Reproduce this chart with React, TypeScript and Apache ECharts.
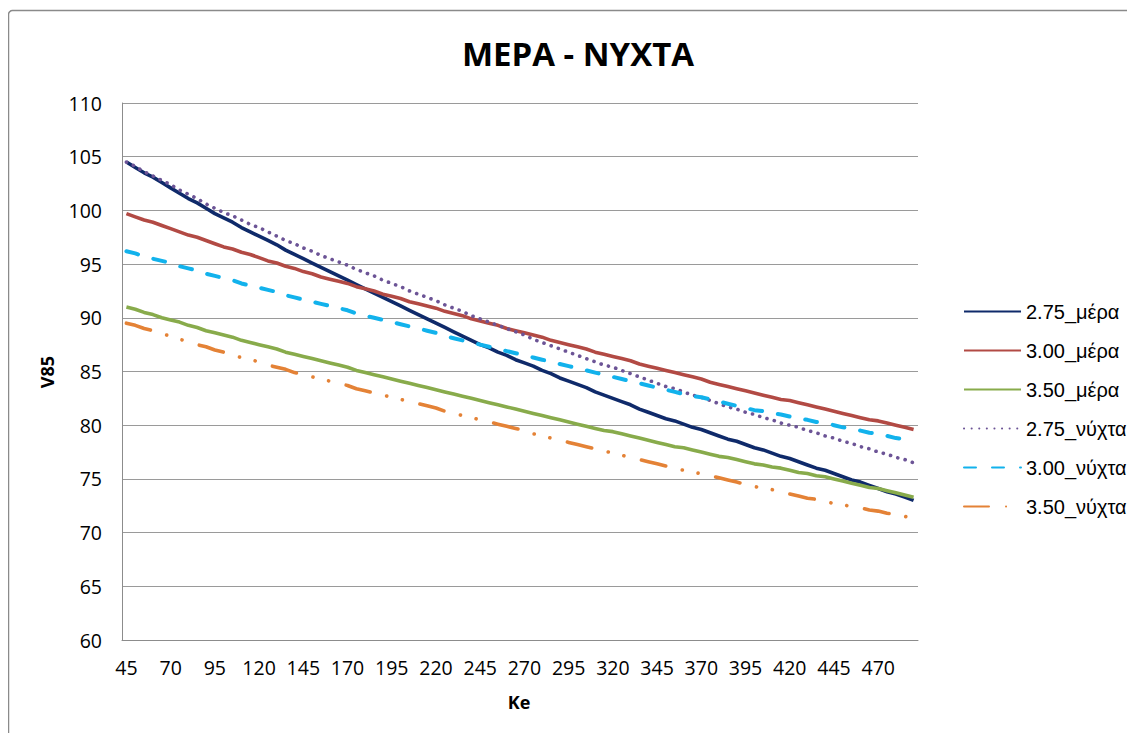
import React, { useEffect, useRef } from "react";
import * as echarts from "echarts";

// Ke values on the category axis (45 ... 490, step 5)
const keValues: string[] = [
  "45", "50", "55", "60", "65", "70", "75", "80", "85", "90",
  "95", "100", "105", "110", "115", "120", "125", "130", "135", "140",
  "145", "150", "155", "160", "165", "170", "175", "180", "185", "190",
  "195", "200", "205", "210", "215", "220", "225", "230", "235", "240",
  "245", "250", "255", "260", "265", "270", "275", "280", "285", "290",
  "295", "300", "305", "310", "315", "320", "325", "330", "335", "340",
  "345", "350", "355", "360", "365", "370", "375", "380", "385", "390",
  "395", "400", "405", "410", "415", "420", "425", "430", "435", "440",
  "445", "450", "455", "460", "465", "470", "475", "480", "485", "490",
];

const day275: number[] = [
  104.5, 104.0, 103.5, 103.1, 102.6, 102.1, 101.6, 101.1, 100.7, 100.2,
  99.7, 99.3, 98.9, 98.4, 98.0, 97.6, 97.2, 96.8, 96.3, 95.9,
  95.5, 95.1, 94.7, 94.3, 93.9, 93.5, 93.1, 92.7, 92.3, 91.9,
  91.5, 91.1, 90.7, 90.3, 89.9, 89.5, 89.1, 88.7, 88.3, 87.9,
  87.5, 87.2, 86.8, 86.5, 86.1, 85.8, 85.5, 85.1, 84.8, 84.4,
  84.1, 83.8, 83.5, 83.1, 82.8, 82.5, 82.2, 81.9, 81.5, 81.2,
  80.9, 80.6, 80.4, 80.1, 79.8, 79.6, 79.3, 79.0, 78.7, 78.5,
  78.2, 77.9, 77.7, 77.4, 77.1, 76.9, 76.6, 76.3, 76.0, 75.8,
  75.5, 75.2, 74.9, 74.7, 74.4, 74.1, 73.8, 73.6, 73.3, 73.0,
];

const day300: number[] = [
  99.7, 99.4, 99.1, 98.9, 98.6, 98.3, 98.0, 97.7, 97.5, 97.2,
  96.9, 96.6, 96.4, 96.1, 95.9, 95.6, 95.3, 95.1, 94.8, 94.6,
  94.3, 94.1, 93.8, 93.6, 93.4, 93.2, 92.9, 92.7, 92.5, 92.2,
  92.0, 91.8, 91.5, 91.3, 91.1, 90.9, 90.6, 90.4, 90.2, 89.9,
  89.7, 89.5, 89.3, 89.0, 88.8, 88.6, 88.4, 88.2, 87.9, 87.7,
  87.5, 87.3, 87.1, 86.8, 86.6, 86.4, 86.2, 86.0, 85.7, 85.5,
  85.3, 85.1, 84.9, 84.7, 84.5, 84.3, 84.0, 83.8, 83.6, 83.4,
  83.2, 83.0, 82.8, 82.6, 82.4, 82.3, 82.1, 81.9, 81.7, 81.5,
  81.3, 81.1, 80.9, 80.7, 80.5, 80.4, 80.2, 80.0, 79.8, 79.6,
];

const day350: number[] = [
  91.0, 90.8, 90.5, 90.3, 90.0, 89.8, 89.6, 89.3, 89.1, 88.8,
  88.6, 88.4, 88.2, 87.9, 87.7, 87.5, 87.3, 87.1, 86.8, 86.6,
  86.4, 86.2, 86.0, 85.8, 85.6, 85.4, 85.1, 84.9, 84.7, 84.5,
  84.3, 84.1, 83.9, 83.7, 83.5, 83.3, 83.1, 82.9, 82.7, 82.5,
  82.3, 82.1, 81.9, 81.7, 81.5, 81.3, 81.1, 80.9, 80.7, 80.5,
  80.3, 80.1, 79.9, 79.7, 79.5, 79.4, 79.2, 79.0, 78.8, 78.6,
  78.4, 78.2, 78.0, 77.9, 77.7, 77.5, 77.3, 77.1, 77.0, 76.8,
  76.6, 76.4, 76.3, 76.1, 76.0, 75.8, 75.6, 75.5, 75.3, 75.2,
  75.0, 74.8, 74.6, 74.4, 74.2, 74.1, 73.9, 73.7, 73.5, 73.3,
];

const night275: number[] = [
  104.5, 104.1, 103.6, 103.2, 102.8, 102.4, 101.9, 101.5, 101.1, 100.6,
  100.2, 99.8, 99.5, 99.1, 98.7, 98.4, 98.0, 97.6, 97.2, 96.9,
  96.5, 96.2, 95.8, 95.5, 95.2, 94.9, 94.5, 94.2, 93.9, 93.5,
  93.2, 92.9, 92.5, 92.2, 91.9, 91.6, 91.2, 90.9, 90.6, 90.2,
  89.9, 89.6, 89.3, 89.0, 88.7, 88.4, 88.0, 87.7, 87.4, 87.1,
  86.8, 86.5, 86.2, 85.9, 85.6, 85.4, 85.1, 84.8, 84.5, 84.2,
  83.9, 83.6, 83.4, 83.1, 82.8, 82.6, 82.3, 82.0, 81.7, 81.5,
  81.2, 81.0, 80.7, 80.5, 80.2, 80.0, 79.8, 79.5, 79.3, 79.0,
  78.8, 78.5, 78.3, 78.0, 77.8, 77.5, 77.3, 77.0, 76.8, 76.5,
];

const night300: number[] = [
  96.2, 96.0, 95.7, 95.5, 95.3, 95.1, 94.8, 94.6, 94.4, 94.1,
  93.9, 93.7, 93.5, 93.2, 93.0, 92.8, 92.6, 92.4, 92.1, 91.9,
  91.7, 91.5, 91.3, 91.1, 90.9, 90.7, 90.4, 90.2, 90.0, 89.8,
  89.6, 89.4, 89.2, 89.0, 88.8, 88.6, 88.3, 88.1, 87.9, 87.7,
  87.5, 87.3, 87.1, 86.9, 86.7, 86.5, 86.3, 86.1, 85.9, 85.7,
  85.5, 85.3, 85.1, 84.9, 84.7, 84.5, 84.3, 84.1, 83.9, 83.7,
  83.5, 83.3, 83.1, 82.9, 82.7, 82.6, 82.4, 82.2, 82.0, 81.8,
  81.6, 81.4, 81.3, 81.1, 81.0, 80.8, 80.6, 80.5, 80.3, 80.2,
  80.0, 79.8, 79.7, 79.5, 79.3, 79.2, 79.0, 78.8, 78.7, 78.5,
];

const night350: number[] = [
  89.5, 89.3, 89.0, 88.8, 88.5, 88.3, 88.0, 87.8, 87.5, 87.3,
  87.0, 86.8, 86.5, 86.3, 86.1, 85.9, 85.6, 85.4, 85.2, 84.9,
  84.7, 84.5, 84.3, 84.1, 83.9, 83.7, 83.4, 83.2, 83.0, 82.8,
  82.6, 82.4, 82.2, 82.0, 81.8, 81.6, 81.3, 81.1, 80.9, 80.7,
  80.5, 80.3, 80.1, 79.9, 79.7, 79.5, 79.2, 79.0, 78.8, 78.6,
  78.4, 78.2, 78.0, 77.8, 77.6, 77.4, 77.2, 77.0, 76.8, 76.6,
  76.4, 76.2, 76.0, 75.8, 75.6, 75.5, 75.3, 75.1, 74.9, 74.7,
  74.5, 74.3, 74.1, 74.0, 73.8, 73.6, 73.4, 73.2, 73.1, 72.9,
  72.7, 72.6, 72.4, 72.3, 72.1, 72.0, 71.8, 71.7, 71.5, 71.4,
];

const seriesNames: string[] = [
  "2.75_μέρα",
  "3.00_μέρα",
  "3.50_μέρα",
  "2.75_νύχτα",
  "3.00_νύχτα",
  "3.50_νύχτα",
];

const FONT = '"Open Sans", "DejaVu Sans", sans-serif';
const LEGEND_FONT = '"Liberation Sans", "DejaVu Sans", sans-serif';

export default function App() {
  const ref = useRef<HTMLDivElement>(null);

  useEffect(() => {
    document.documentElement.style.overflow = "hidden";
    if (!ref.current) return;
    const chart = echarts.init(ref.current, null, { renderer: "svg" });

    const line = (
      name: string,
      data: number[],
      color: string,
      width: number,
      type: any,
      cap: "butt" | "round" = "butt"
    ) => ({
      name,
      type: "line",
      data,
      symbol: "none",
      showSymbol: false,
      smooth: false,
      lineStyle: { color, width, type, cap, join: "round" },
      itemStyle: { color },
      emphasis: { disabled: true },
    });

    chart.setOption({
      animation: false,
      backgroundColor: "#ffffff",
      textStyle: { fontFamily: FONT },
      graphic: [
        {
          type: "rect",
          shape: { x: 0.5, y: 2.5, width: 1125, height: 740, r: 4 },
          style: { fill: "none", stroke: "#8a8a8a", lineWidth: 1.5 },
          silent: true,
        },
        {
          type: "text",
          x: 570,
          y: 45,
          style: {
            text: "ΜΕΡΑ - ΝΥΧΤΑ",
            font: `bold 33px ${FONT}`,
            fill: "#000000",
            textAlign: "center",
            textVerticalAlign: "middle",
          },
        },
        {
          type: "text",
          x: 38.7,
          y: 364,
          rotation: Math.PI / 2,
          style: {
            text: "V85",
            font: `bold 18px ${FONT}`,
            fill: "#000000",
            textAlign: "center",
            textVerticalAlign: "middle",
          },
        },
        {
          type: "text",
          x: 511,
          y: 694,
          style: {
            text: "Ke",
            font: `bold 18px ${FONT}`,
            fill: "#000000",
            textAlign: "center",
            textVerticalAlign: "middle",
          },
        },
      ],
      grid: { left: 114, top: 95, width: 796, height: 537, containLabel: false },
      legend: {
        orient: "vertical",
        left: 950,
        top: 288.5,
        itemWidth: 57,
        itemHeight: 14,
        itemGap: 19,
        selectedMode: false,
        itemStyle: { opacity: 0 },
        textStyle: { fontFamily: LEGEND_FONT, fontSize: 20, color: "#000000" },
        data: seriesNames,
      },
      xAxis: {
        type: "category",
        data: keValues,
        boundaryGap: true,
        axisLine: { show: true, lineStyle: { color: "#8c8c8c", width: 1 } },
        axisTick: { show: false },
        axisLabel: {
          interval: 4,
          margin: 17,
          fontFamily: FONT,
          fontSize: 19.5,
          color: "#000000",
        },
        splitLine: { show: false },
      },
      yAxis: {
        type: "value",
        min: 60,
        max: 110,
        interval: 5,
        axisLine: { show: true, lineStyle: { color: "#8c8c8c", width: 1 } },
        axisTick: { show: false },
        axisLabel: {
          margin: 20,
          fontFamily: FONT,
          fontSize: 19.5,
          color: "#000000",
        },
        splitLine: { show: true, lineStyle: { color: "#9a9a9a", width: 1 } },
      },
      series: [
        line(seriesNames[0], day275, "#0f2a6a", 3.6, "solid"),
        line(seriesNames[1], day300, "#b24a44", 3.6, "solid"),
        line(seriesNames[2], day350, "#88ab4b", 3.6, "solid"),
        line(seriesNames[3], night275, "#6c5496", 3.6, [0.1, 7.5], "round"),
        line(seriesNames[4], night300, "#12b2ec", 4, [12, 16], "round"),
        line(seriesNames[5], night350, "#e48236", 3.6, [25, 17, 0.1, 16, 0.1, 18], "round"),
      ],
    });

    return () => {
      chart.dispose();
    };
  }, []);

  return <div ref={ref} style={{ width: 1127, height: 725 }} />;
}
